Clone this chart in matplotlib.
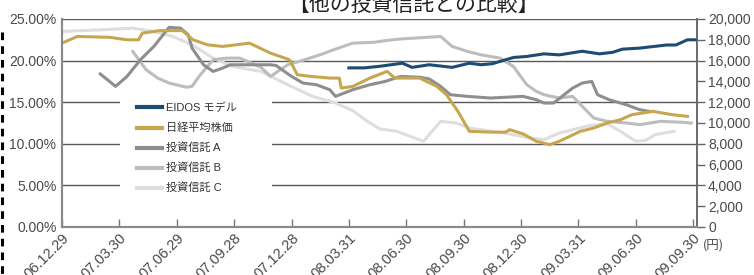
import matplotlib
matplotlib.use("Agg")
import matplotlib.pyplot as plt
from matplotlib.lines import Line2D
from matplotlib.patches import Rectangle

plt.rcParams["font.family"] = ["Liberation Sans", "Noto Sans CJK JP", "DejaVu Sans"]

# x ticks: quarter ends, counted in months from 06.12.29
TICK_MONTHS = [0, 3, 6, 9, 12, 15, 18, 21, 24, 27, 30, 33]
TICK_LABELS = ["06.12.29", "07.03.30", "07.06.29", "07.09.28", "07.12.28", "08.03.31",
               "08.06.30", "08.09.30", "08.12.30", "09.03.31", "09.06.30", "09.09.30"]

# right axis (yen)
EIDOS_M = [15.0, 15.8, 16.6, 17.8, 18.3, 19.2, 20.4, 21.3, 21.9, 22.5, 23.6, 24.3,
           25.2, 26.0, 27.2, 28.1, 28.8, 29.3, 30.2, 31.6, 32.1, 32.7, 33.1]
EIDOS_YEN = [15300, 15300, 15450, 15750, 15350, 15600, 15350, 15750, 15600, 15700, 16300, 16400,
             16650, 16550, 16900, 16650, 16800, 17100, 17200, 17500, 17500, 18000, 18000]

NIKKEI_M = [0, 0.8, 2.5, 3.4, 4.0, 4.2, 5.1, 6.3, 6.85, 7.6, 8.4, 9.8, 10.9, 11.9, 12.3,
            13.0, 14.0, 14.5, 14.6, 15.2, 16.1, 17.0, 17.4, 18.7, 19.6, 20.1, 20.7, 21.3,
            22.4, 23.2, 23.4, 24.1, 24.8, 25.5, 26.0, 27.1, 27.8, 28.5, 29.2, 29.8, 30.9,
            31.9, 32.7]
NIKKEI_YEN = [17680, 18320, 18240, 18000, 18000, 18640, 18880, 18880, 18000, 17520, 17360,
              17680, 16720, 16080, 14640, 14480, 14320, 14320, 13360, 13520, 14320, 14960,
              14320, 14320, 13520, 12720, 11120, 9200, 9120, 9120, 9360, 8960, 8240, 7920,
              8240, 9200, 9520, 10000, 10320, 10800, 11120, 10800, 10640]

# left axis (%)
FUND_A_M = [2.0, 2.8, 3.4, 4.1, 4.8, 5.6, 6.2, 6.6, 6.8, 7.4, 7.9, 8.4, 8.8, 9.8, 10.9,
            11.2, 12.0, 12.6, 13.3, 14.0, 14.3, 15.2, 16.1, 16.9, 17.7, 18.7, 19.2, 19.8,
            20.3, 21.2, 22.4, 24.1, 24.8, 25.2, 25.7, 26.7, 27.2, 27.7, 28.0, 28.6, 29.5,
            30.2, 30.7]
FUND_A_PCT = [18.4, 16.9, 18.1, 20.1, 21.7, 24.0, 23.9, 23.1, 21.5, 19.5, 18.7, 19.1, 19.5,
              19.5, 19.5, 19.4, 18.1, 17.3, 17.1, 16.5, 15.7, 16.5, 17.1, 17.5, 18.1, 18.0,
              17.8, 16.9, 15.9, 15.7, 15.5, 15.7, 15.3, 14.9, 14.9, 16.7, 17.3, 17.5, 15.9,
              15.3, 14.7, 14.1, 13.9]

FUND_B_M = [3.7, 4.4, 5.0, 5.6, 6.5, 6.8, 7.2, 7.9, 8.6, 9.3, 9.7, 10.4, 10.9, 11.8, 12.4,
            13.5, 14.2, 15.2, 16.3, 16.9, 17.7, 19.8, 20.4, 21.2, 21.9, 22.9, 23.6, 24.3,
            24.8, 25.2, 26.0, 26.7, 27.2, 27.8, 28.5, 29.5, 30.2, 31.3, 32.3, 32.9]
FUND_B_PCT = [21.1, 18.9, 17.9, 17.3, 16.8, 16.9, 18.2, 20.1, 20.3, 20.3, 19.9, 19.2, 18.1,
              19.5, 19.9, 20.7, 21.3, 22.1, 22.2, 22.4, 22.6, 22.9, 21.7, 21.1, 20.7, 20.3,
              19.3, 17.1, 16.3, 15.9, 15.5, 15.7, 14.5, 13.1, 12.7, 12.5, 12.3, 12.7, 12.6, 12.5]

FUND_C_M = [0.05, 2.0, 3.7, 4.8, 5.8, 6.8, 7.9, 8.9, 10.4, 11.8, 13.1, 14.2, 15.2, 15.9,
            16.6, 17.5, 18.9, 19.8, 20.6, 21.3, 23.1, 24.5, 25.2, 26.0, 27.6, 28.5, 29.2,
            30.0, 30.5, 31.0, 32.0]
FUND_C_PCT = [23.5, 23.7, 23.9, 23.5, 22.9, 21.9, 20.3, 19.3, 18.7, 17.1, 15.7, 15.0, 14.0,
              12.8, 11.8, 11.5, 10.3, 12.7, 12.5, 11.9, 11.3, 10.7, 10.5, 11.3, 12.2, 12.4,
              11.5, 10.3, 10.4, 11.1, 11.5]

LEFT_TICKS = [0, 5, 10, 15, 20, 25]
RIGHT_TICKS = list(range(0, 20001, 2000))

C_EIDOS = "#1d4b74"
C_NIKKEI = "#c6a750"
C_A = "#8e8e8e"
C_B = "#bdbdbd"
C_C = "#dedede"
TXT = "#4a4a4a"

fig = plt.figure(figsize=(7.54, 2.75), dpi=100)
ax = fig.add_axes([62 / 754, 1 - 227 / 275, 635 / 754, 208 / 275])
ax2 = ax.twinx()

lw = 2.2
ax.plot(FUND_C_M, FUND_C_PCT, color=C_C, lw=lw, zorder=2, label="投資信託 C")
ax.plot(FUND_B_M, FUND_B_PCT, color=C_B, lw=lw, zorder=3, label="投資信託 B")
ax.plot(FUND_A_M, FUND_A_PCT, color=C_A, lw=lw, zorder=4, label="投資信託 A")
ax2.plot(NIKKEI_M, NIKKEI_YEN, color=C_NIKKEI, lw=lw, zorder=2, label="日経平均株価")
ax2.plot(EIDOS_M, EIDOS_YEN, color=C_EIDOS, lw=lw, zorder=3, label="EIDOS モデル")

ax.set_xlim(0, 33.2)
ax.set_ylim(0, 25)
ax2.set_ylim(0, 20000)

ax.set_yticks(LEFT_TICKS)
ax.set_yticklabels([f"{v:.2f}%" for v in LEFT_TICKS])
ax.set_xticks(TICK_MONTHS)
ax.set_xticklabels(TICK_LABELS, rotation=45, ha="right", va="top", rotation_mode="anchor")
ax2.set_yticks(RIGHT_TICKS)
ax2.set_yticklabels([f"{v:,}" for v in RIGHT_TICKS])

ax.set_axisbelow(True)
ax.grid(axis="y", color="#5a5a5a", lw=1.0)
ax.grid(axis="x", visible=False)
ax.tick_params(axis="y", length=0, pad=4, labelsize=10, labelcolor=TXT)
ax.tick_params(axis="x", direction="in", length=6, width=1, color="#777777",
               labelsize=10.5, labelcolor=TXT, pad=3)
ax2.tick_params(axis="y", direction="out", length=6, width=1, color="#666666",
                labelsize=10, labelcolor=TXT, pad=2)

for a in (ax, ax2):
    a.spines["top"].set_visible(False)
    a.spines["left"].set_color("#8a8a8a")
    a.spines["left"].set_linewidth(1.5)
    a.spines["bottom"].set_color("#8a8a8a")
    a.spines["bottom"].set_linewidth(1.5)
    a.spines["right"].set_color("#6a6a6a")
    a.spines["right"].set_linewidth(1.2)

# white box behind the legend cuts the grid lines
ax.add_patch(Rectangle((0.091, 0.082), 0.24, 0.567, transform=ax.transAxes,
                       facecolor="white", edgecolor="none", zorder=1))

h2, l2 = ax2.get_legend_handles_labels()
h1, l1 = ax.get_legend_handles_labels()
handles = h2[::-1] + h1[::-1]
labels = l2[::-1] + l1[::-1]
leg = ax2.legend(handles, labels, loc="upper left", bbox_to_anchor=(0.118, 0.596),
                 frameon=False, borderpad=0, borderaxespad=0, fontsize=8,
                 handlelength=2.25, handletextpad=0.4, labelspacing=0.85)
for t in leg.get_texts():
    t.set_color("#333333")
for ln in leg.get_lines():
    ln.set_linewidth(3)

fig.text(0.548, 1 - 16 / 275, "【他の投資信託との比較】", ha="center", va="bottom",
         fontsize=15, color="#222222", family=["Noto Sans CJK JP", "DejaVu Sans"])
fig.text(713 / 754, 1 - 245 / 275, "(円)", ha="center", va="center", fontsize=9,
         color=TXT, family=["Noto Sans CJK JP", "DejaVu Sans"])

fig.add_artist(Line2D([1.5 / 754, 1.5 / 754], [1 - 32 / 275, 0], transform=fig.transFigure,
                      color="black", lw=2.2, dashes=(2.5, 2.0)))

fig.savefig("out.png", dpi=100)
